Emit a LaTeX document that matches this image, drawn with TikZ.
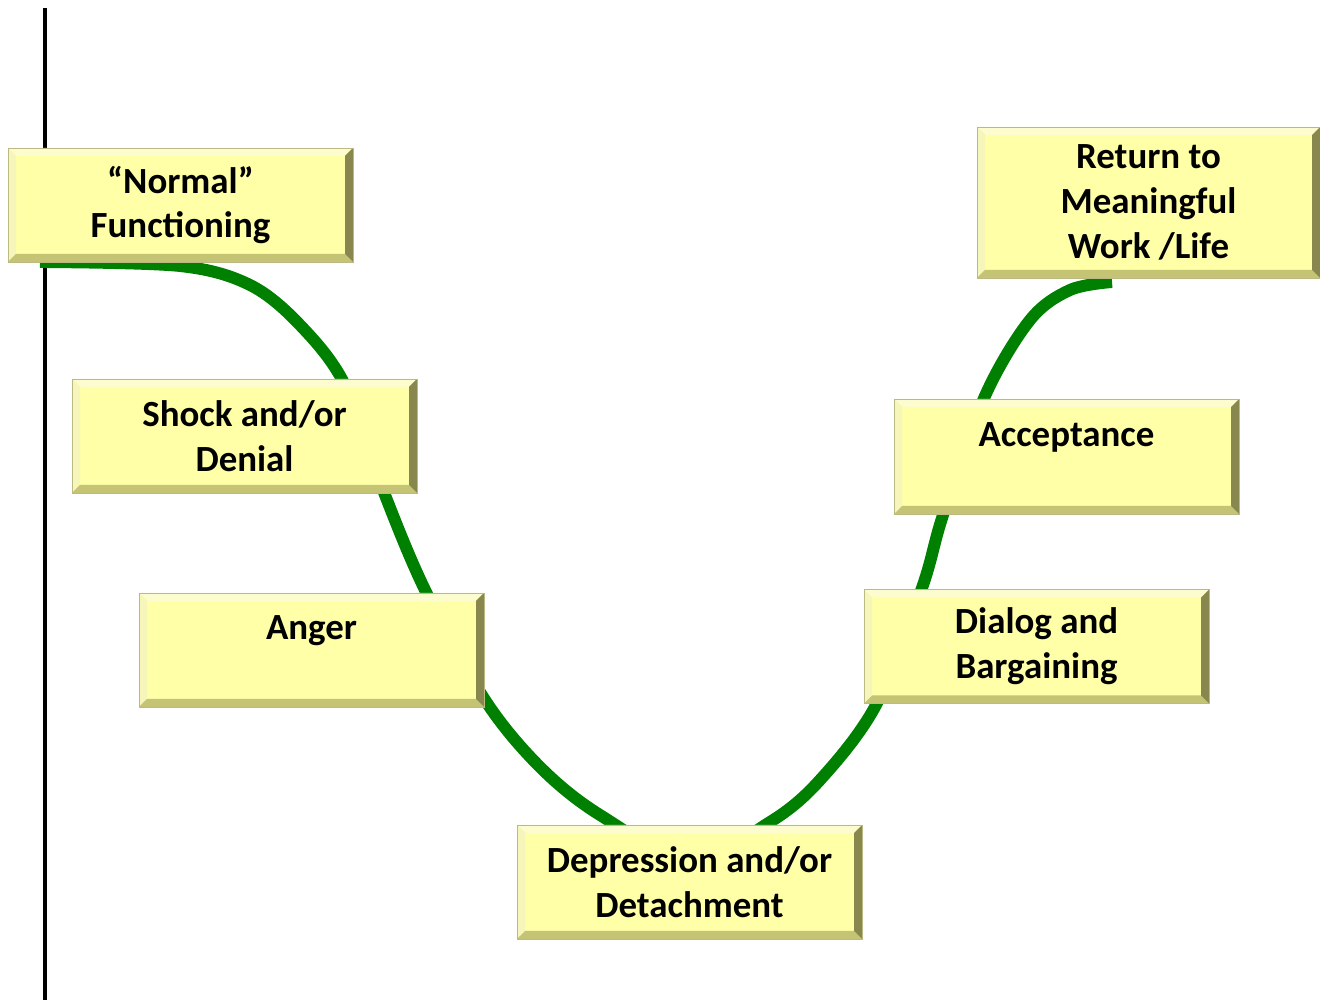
\documentclass[tikz,border=0pt]{standalone}
\usepackage{fontspec}
\setmainfont{Carlito}
\definecolor{boxyellow}{RGB}{255,255,168}
\definecolor{bevtop}{RGB}{252,252,206}
\definecolor{bevleft}{RGB}{246,246,186}
\definecolor{bevbottom}{RGB}{196,196,116}
\definecolor{bevright}{RGB}{136,136,78}
\definecolor{boxedge}{RGB}{186,186,130}
\definecolor{curvegreen}{RGB}{0,128,0}
\newcommand\bevw{0.16cm}
\tikzset{
  stage/.style={rectangle, fill=boxyellow, draw=boxedge, line width=0.5pt,
    minimum width=6.9cm, minimum height=2.28cm, inner sep=0pt, align=center,
    font=\fontsize{21}{25.5}\selectfont\bfseries,
    path picture={
      \fill[bevtop] (path picture bounding box.north west) -- (path picture bounding box.north east)
        -- ([shift={(-\bevw,-\bevw)}]path picture bounding box.north east) -- ([shift={(\bevw,-\bevw)}]path picture bounding box.north west) -- cycle;
      \fill[bevleft] (path picture bounding box.north west) -- (path picture bounding box.south west)
        -- ([shift={(\bevw,\bevw)}]path picture bounding box.south west) -- ([shift={(\bevw,-\bevw)}]path picture bounding box.north west) -- cycle;
      \fill[bevbottom] (path picture bounding box.south west) -- (path picture bounding box.south east)
        -- ([shift={(-\bevw,\bevw)}]path picture bounding box.south east) -- ([shift={(\bevw,\bevw)}]path picture bounding box.south west) -- cycle;
      \fill[bevright] (path picture bounding box.north east) -- (path picture bounding box.south east)
        -- ([shift={(-\bevw,\bevw)}]path picture bounding box.south east) -- ([shift={(-\bevw,-\bevw)}]path picture bounding box.north east) -- cycle;
    }},
  ucurve/.style={curvegreen, line width=6.8pt}
}
\begin{document}
\begin{tikzpicture}
\useasboundingbox (0,0) rectangle (26.4,20);
% axis
\draw[line width=2.3pt] (0.9,19.84)--(0.9,0);
% the U curve, behind the boxes
\draw[ucurve] plot[smooth, tension=0.55] coordinates {(0.80,14.76) (3.60,14.68) (5.00,14.30)
(6.00,13.50) (6.90,12.30) (7.70,10.10) (8.52,8.16) (9.70,6.00) (10.80,4.66) (12.00,3.70)
(13.80,2.80) (15.40,3.56) (16.40,4.40) (17.52,5.90) (18.44,8.24) (18.86,9.70) (19.70,12.08)
(20.60,13.60) (21.40,14.20) (22.24,14.36)};
% stages
\node[stage] (normal) at (3.61,15.90) {“Normal”\\Functioning};
\node[stage] (shock) at (4.89,11.28) {Shock and/or\\Denial};
\node[stage] (anger) at (6.23,7.00) {Anger\\\mbox{}};
\node[stage] (depression) at (13.79,2.36) {Depression and/or\\Detachment};
\node[stage] (dialog) at (20.73,7.07) {Dialog and\\Bargaining};
\node[stage, minimum height=2.3cm] (acceptance) at (21.33,10.87) {Acceptance\\\mbox{}};
\node[stage, minimum width=6.86cm, minimum height=3.02cm] (return) at (22.97,15.95) {Return to\\Meaningful\\Work /Life};
\end{tikzpicture}
\end{document}
